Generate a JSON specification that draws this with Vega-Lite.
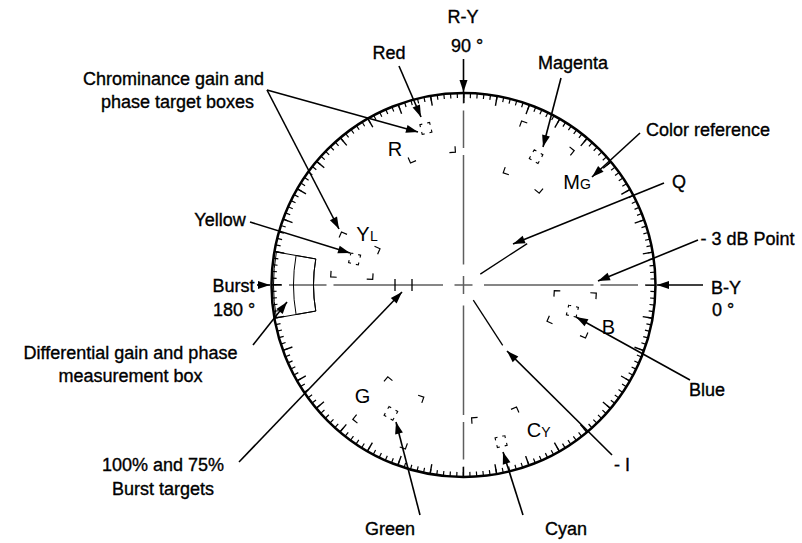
{
  "$schema": "https://vega.github.io/schema/vega-lite/v6.json",
  "width": 802,
  "height": 543,
  "padding": 0,
  "autosize": {"type": "none"},
  "background": "white",
  "config": {"view": {"stroke": null}},
  "datasets": {
    "axes": [
      {"x": -192, "y": 0, "x2": -181.5, "y2": 0},
      {"x": -174.5, "y": 0, "x2": -137, "y2": 0},
      {"x": -130, "y": 0, "x2": -20.5, "y2": 0},
      {"x": -9, "y": 0, "x2": 9, "y2": 0},
      {"x": 20.5, "y": 0, "x2": 130, "y2": 0},
      {"x": 137, "y": 0, "x2": 174.5, "y2": 0},
      {"x": 181.5, "y": 0, "x2": 192, "y2": 0},
      {"x": 0, "y": -192, "x2": 0, "y2": -181.5},
      {"x": 0, "y": -174.5, "x2": 0, "y2": -137},
      {"x": 0, "y": -130, "x2": 0, "y2": -20.5},
      {"x": 0, "y": -9, "x2": 0, "y2": 9},
      {"x": 0, "y": 20.5, "x2": 0, "y2": 130},
      {"x": 0, "y": 137, "x2": 0, "y2": 174.5},
      {"x": 0, "y": 181.5, "x2": 0, "y2": 192}
    ],
    "lines": [
      {"x": 16.8, "y": 10.9, "x2": 63.7, "y2": 41.4},
      {"x": 9.8, "y": -15.1, "x2": 39.2, "y2": -60.4},
      {"x": -68.5, "y": -6, "x2": -68.5, "y2": 6},
      {"x": -51.5, "y": -6, "x2": -51.5, "y2": 6}
    ],
    "burstbox": [
      {"x": 0, "y": 0, "t1": 260, "t2": 280, "r1": 150, "r2": 190},
      {"x": 0, "y": 0, "t1": 260, "t2": 280, "r1": 150, "r2": 170}
    ],
    "origin": [{"x": 0, "y": 0}],
    "targets": [
      {"c": "R", "x": -37.6, "y": 156.6, "a": 76.5},
      {"c": "MG", "x": 72.6, "y": 128.4, "a": 29.5},
      {"c": "B", "x": 108.9, "y": -26.1, "a": 13.5},
      {"c": "CY", "x": 37.6, "y": -156.6, "a": 76.5},
      {"c": "G", "x": -72.6, "y": -128.4, "a": 29.5},
      {"c": "YL", "x": -108.9, "y": 26.1, "a": 13.5}
    ],
    "brackets": [
      {"c": "R", "x": -53.0, "y": 122.0, "a": 246.5},
      {"c": "R", "x": -8.1, "y": 132.8, "a": 176.5},
      {"c": "MG", "x": 39.7, "y": 112.2, "a": 289.5},
      {"c": "MG", "x": 75.7, "y": 91.8, "a": 219.5},
      {"c": "MG", "x": 58.1, "y": 164.0, "a": 19.5},
      {"c": "MG", "x": 110.7, "y": 134.3, "a": 129.5},
      {"c": "B", "x": 90.8, "y": -5.6, "a": 3.5},
      {"c": "B", "x": 83.5, "y": -36.3, "a": 293.5},
      {"c": "B", "x": 132.8, "y": -8.1, "a": 93.5},
      {"c": "B", "x": 122.0, "y": -53.0, "a": 203.5},
      {"c": "YL", "x": -90.8, "y": 5.6, "a": 183.5},
      {"c": "YL", "x": -83.5, "y": 36.3, "a": 113.5},
      {"c": "YL", "x": -132.8, "y": 8.1, "a": 273.5},
      {"c": "YL", "x": -122.0, "y": 53.0, "a": 23.5},
      {"c": "CY", "x": 53.0, "y": -122.0, "a": 66.5},
      {"c": "CY", "x": 8.1, "y": -132.8, "a": 356.5},
      {"c": "G", "x": -39.7, "y": -112.2, "a": 109.5},
      {"c": "G", "x": -75.7, "y": -91.8, "a": 39.5},
      {"c": "G", "x": -58.1, "y": -164.0, "a": 199.5},
      {"c": "G", "x": -110.7, "y": -134.3, "a": 309.5}
    ],
    "arrows": [
      {"k": "R-Y", "x": 0, "y": 226, "x2": 0, "y2": 193, "a": 90},
      {"k": "Red", "x": -64.5, "y": 219, "x2": -42.5, "y2": 168, "a": 66.7},
      {"k": "Magenta", "x": 97.5, "y": 207, "x2": 79.5, "y2": 138, "a": 104.6},
      {"k": "Color reference", "x": 176.5, "y": 152, "x2": 128.5, "y2": 108, "a": 137.5},
      {"k": "Q", "x": 200.5, "y": 102, "x2": 49.5, "y2": 41, "a": 158},
      {"k": "-3 dB", "x": 234.5, "y": 45, "x2": 134.5, "y2": 4, "a": 157.7},
      {"k": "B-Y", "x": 239.5, "y": 0, "x2": 193.5, "y2": 0, "a": 180},
      {"k": "Blue", "x": 226.5, "y": -95, "x2": 112.5, "y2": -32, "a": 208.9},
      {"k": "-I", "x": 148.5, "y": -170, "x2": 43.5, "y2": -66, "a": 224.7},
      {"k": "Cyan", "x": 59.5, "y": -230, "x2": 39.5, "y2": -167, "a": 252.4},
      {"k": "Green", "x": -43.5, "y": -230, "x2": -67.5, "y2": -137, "a": 255.5},
      {"k": "Burst targets", "x": -224.5, "y": -177, "x2": -61.5, "y2": -7, "a": 313.6},
      {"k": "Differential", "x": -210.5, "y": -60, "x2": -176.5, "y2": -17, "a": 308.3},
      {"k": "Burst", "x": -206.5, "y": 0, "x2": -193.5, "y2": 0, "a": 0},
      {"k": "Yellow", "x": -213.5, "y": 63, "x2": -113.5, "y2": 32, "a": 17.2},
      {"k": "Chroma R", "x": -196.5, "y": 195, "x2": -45.5, "y2": 153, "a": 15.5},
      {"k": "Chroma YL", "x": -196.5, "y": 195, "x2": -124.5, "y2": 56, "a": 62.6}
    ],
    "labels": [
      {"t": "R-Y", "x": -0.5, "y": 267},
      {"t": "90 °", "x": 3.5, "y": 238},
      {"t": "Red", "x": -74.5, "y": 231},
      {"t": "Magenta", "x": 109.5, "y": 221},
      {"t": "Color reference", "x": 244.5, "y": 154},
      {"t": "Q", "x": 215.5, "y": 102},
      {"t": "- 3 dB Point", "x": 284, "y": 45},
      {"t": "B-Y", "x": 262.5, "y": -4},
      {"t": "0 °", "x": 259.5, "y": -26},
      {"t": "Blue", "x": 243.5, "y": -106},
      {"t": "- I", "x": 158.5, "y": -181},
      {"t": "Cyan", "x": 102.5, "y": -245},
      {"t": "Green", "x": -73.5, "y": -245},
      {"t": "100% and 75%", "x": -300.5, "y": -181},
      {"t": "Burst targets", "x": -300.5, "y": -205},
      {"t": "Differential gain and phase", "x": -333, "y": -69},
      {"t": "measurement box", "x": -333, "y": -92},
      {"t": "Burst", "x": -230, "y": -2},
      {"t": "180 °", "x": -229.5, "y": -26},
      {"t": "Yellow", "x": -243.5, "y": 64},
      {"t": "Chrominance gain and", "x": -290, "y": 205},
      {"t": "phase target boxes", "x": -286, "y": 182}
    ],
    "big": [
      {"t": "R", "x": -68.5, "y": 135},
      {"t": "M", "x": 108, "y": 102},
      {"t": "B", "x": 145, "y": -42.5},
      {"t": "C", "x": 70.5, "y": -146},
      {"t": "G", "x": -101, "y": -112},
      {"t": "Y", "x": -100.5, "y": 50}
    ],
    "small": [
      {"t": "G", "x": 122, "y": 99.8},
      {"t": "Y", "x": 82.5, "y": -148.2},
      {"t": "L", "x": -89.5, "y": 47.8}
    ]
  },
  "encoding": {
    "x": {"field": "x", "type": "quantitative", "scale": {"domain": [-463.5, 338.5], "nice": false, "zero": false}, "axis": null},
    "y": {"field": "y", "type": "quantitative", "scale": {"domain": [-258, 285], "nice": false, "zero": false}, "axis": null}
  },
  "layer": [
    {
      "data": {"name": "axes"},
      "mark": {"type": "rule", "color": "#5e5e5e", "strokeWidth": 1.5},
      "encoding": {"x2": {"field": "x2"}, "y2": {"field": "y2"}}
    },
    {
      "data": {"name": "lines"},
      "mark": {"type": "rule", "color": "black", "strokeWidth": 1.3},
      "encoding": {"x2": {"field": "x2"}, "y2": {"field": "y2"}}
    },
    {
      "data": {"name": "burstbox"},
      "mark": {"type": "arc", "filled": false, "color": "black", "strokeWidth": 1},
      "encoding": {
        "theta": {"field": "t1", "type": "quantitative", "stack": null, "scale": {"type": "linear", "domain": [0, 360], "range": [0, 6.283185307]}},
        "theta2": {"field": "t2"},
        "radius": {"field": "r2", "type": "quantitative", "scale": {"type": "linear", "domain": [0, 192], "range": [0, 192], "zero": true}},
        "radius2": {"field": "r1"}
      }
    },
    {
      "data": {"name": "origin"},
      "mark": {"type": "point", "shape": "circle", "filled": false, "color": "black", "opacity": 1, "strokeWidth": 5, "size": 143641, "strokeDash": [1.2, 5.4148], "strokeDashOffset": 0.6}
    },
    {
      "data": {"name": "origin"},
      "mark": {"type": "point", "shape": "circle", "filled": false, "color": "black", "opacity": 1, "strokeWidth": 10, "size": 139876, "strokeDash": [1.4, 31.2377], "strokeDashOffset": 0.7}
    },
    {
      "data": {"name": "origin"},
      "mark": {"type": "point", "shape": "circle", "filled": false, "color": "black", "opacity": 1, "strokeWidth": 2.5, "size": 147456}
    },
    {
      "data": {"name": "targets"},
      "mark": {"type": "point", "shape": "square", "filled": false, "color": "black", "opacity": 1, "strokeWidth": 1.1, "size": 100, "strokeDash": [5, 5], "strokeDashOffset": 2.5},
      "encoding": {"angle": {"field": "a", "type": "quantitative", "scale": null}}
    },
    {
      "data": {"name": "brackets"},
      "mark": {"type": "point", "shape": "M1,0L0,0L0,1", "filled": false, "color": "black", "opacity": 1, "strokeWidth": 1.2, "size": 144},
      "encoding": {"angle": {"field": "a", "type": "quantitative", "scale": null}}
    },
    {
      "data": {"name": "arrows"},
      "mark": {"type": "rule", "color": "black", "strokeWidth": 1.6},
      "encoding": {"x2": {"field": "x2"}, "y2": {"field": "y2"}}
    },
    {
      "data": {"name": "arrows"},
      "mark": {"type": "point", "shape": "M0,0L-2.4,-0.8L-2.4,0.8Z", "filled": true, "color": "black", "opacity": 1, "size": 100},
      "encoding": {
        "x": {"field": "x2", "type": "quantitative"},
        "y": {"field": "y2", "type": "quantitative"},
        "angle": {"field": "a", "type": "quantitative", "scale": null}
      }
    },
    {
      "data": {"name": "labels"},
      "mark": {"type": "text", "font": "Liberation Sans", "fontSize": 18, "align": "center", "baseline": "middle", "color": "black", "stroke": "black", "strokeWidth": 0.35},
      "encoding": {"text": {"field": "t"}}
    },
    {
      "data": {"name": "big"},
      "mark": {"type": "text", "font": "Liberation Sans", "fontSize": 20, "align": "center", "baseline": "middle", "color": "black"},
      "encoding": {"text": {"field": "t"}}
    },
    {
      "data": {"name": "small"},
      "mark": {"type": "text", "font": "Liberation Sans", "fontSize": 14, "align": "center", "baseline": "middle", "color": "black"},
      "encoding": {"text": {"field": "t"}}
    }
  ]
}
